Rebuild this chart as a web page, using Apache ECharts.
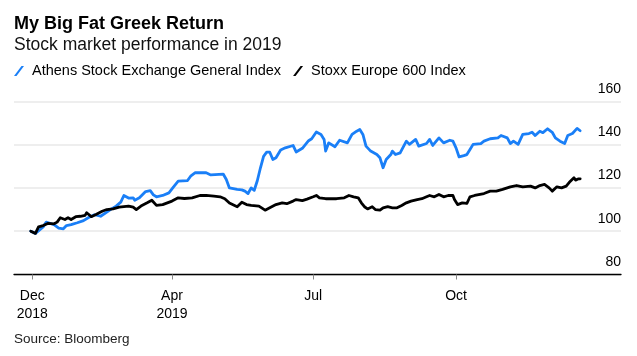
<!DOCTYPE html>
<html>
<head>
<meta charset="utf-8">
<script src="https://cdn.jsdelivr.net/npm/echarts@6/dist/echarts.min.js"></script>
<style>html,body{margin:0;padding:0;background:#fff;}#c{width:637px;height:356px;}</style>
</head>
<body>
<div id="c"></div>
<script>
const athensDates = ['2018-12-31','2019-01-03','2019-01-08','2019-01-10','2019-01-15','2019-01-18','2019-01-21','2019-01-23','2019-01-26','2019-01-30','2019-02-03','2019-02-06','2019-02-10','2019-02-14','2019-02-18','2019-02-21','2019-02-24','2019-02-27','2019-03-01','2019-03-04','2019-03-07','2019-03-08','2019-03-11','2019-03-15','2019-03-18','2019-03-20','2019-03-22','2019-03-26','2019-03-30','2019-04-02','2019-04-05','2019-04-11','2019-04-13','2019-04-16','2019-04-23','2019-04-26','2019-05-04','2019-05-06','2019-05-08','2019-05-13','2019-05-16','2019-05-18','2019-05-20','2019-05-22','2019-05-24','2019-05-26','2019-05-28','2019-05-30','2019-06-01','2019-06-03','2019-06-05','2019-06-07','2019-06-10','2019-06-13','2019-06-18','2019-06-20','2019-06-24','2019-06-28','2019-06-30','2019-07-03','2019-07-06','2019-07-08','2019-07-09','2019-07-11','2019-07-15','2019-07-18','2019-07-23','2019-07-26','2019-07-29','2019-07-31','2019-08-02','2019-08-04','2019-08-07','2019-08-08','2019-08-11','2019-08-13','2019-08-15','2019-08-17','2019-08-20','2019-08-21','2019-08-23','2019-08-26','2019-08-30','2019-09-01','2019-09-05','2019-09-07','2019-09-12','2019-09-14','2019-09-16','2019-09-20','2019-09-23','2019-09-27','2019-09-29','2019-10-01','2019-10-03','2019-10-06','2019-10-08','2019-10-10','2019-10-12','2019-10-17','2019-10-19','2019-10-23','2019-10-28','2019-10-30','2019-11-03','2019-11-05','2019-11-07','2019-11-10','2019-11-13','2019-11-17','2019-11-19','2019-11-21','2019-11-24','2019-11-26','2019-11-29','2019-12-02','2019-12-04','2019-12-07','2019-12-10','2019-12-12','2019-12-15','2019-12-16','2019-12-18','2019-12-20'];
const athensValues = [100,99,102,104.2,103,101.4,101.1,102.6,103,103.9,104.9,106.2,107.6,106.9,108.8,110.3,111.6,113.4,116.5,115.3,115.4,114.3,115.4,118.3,118.7,116.8,115.9,116.5,117.7,120.5,123.1,123.4,125.4,127,127,126,126.4,123.9,120,119.3,119.1,118.5,117.4,120,118.9,123.4,129.3,134.6,136.5,136.5,133.1,133.9,137.5,138.5,139.6,136.6,138.3,141.8,142.7,145.8,144.7,142.4,137,140.8,139,142,140.8,144.7,146.2,147,144.7,139.3,137,137.7,135.4,133.9,129.3,133.1,135.4,137,135.4,136.2,141.6,140.1,142.4,139.3,140.5,142.4,139.6,143.1,140.8,142,141.6,138.5,134.3,134.9,135.4,137.7,140.1,140.5,141.6,142.7,143.1,144.2,143.1,140.5,141.6,140.1,144.7,145.1,145.7,144.2,146.2,145.5,147.3,145.7,143.1,141.6,140.5,144.2,145.1,144.2,147.5,146.4];

const stoxxDates = ['2018-12-31','2019-01-03','2019-01-05','2019-01-08','2019-01-11','2019-01-15','2019-01-17','2019-01-19','2019-01-22','2019-01-24','2019-01-26','2019-01-29','2019-02-01','2019-02-04','2019-02-05','2019-02-08','2019-02-11','2019-02-15','2019-02-18','2019-02-22','2019-02-26','2019-03-04','2019-03-07','2019-03-09','2019-03-12','2019-03-16','2019-03-19','2019-03-22','2019-03-26','2019-04-01','2019-04-05','2019-04-09','2019-04-14','2019-04-19','2019-04-23','2019-04-28','2019-05-02','2019-05-05','2019-05-08','2019-05-13','2019-05-16','2019-05-19','2019-05-22','2019-05-23','2019-05-27','2019-05-31','2019-06-03','2019-06-07','2019-06-11','2019-06-14','2019-06-18','2019-06-20','2019-06-24','2019-06-27','2019-07-01','2019-07-03','2019-07-05','2019-07-09','2019-07-16','2019-07-21','2019-07-24','2019-07-27','2019-07-30','2019-08-01','2019-08-03','2019-08-05','2019-08-08','2019-08-10','2019-08-13','2019-08-15','2019-08-18','2019-08-21','2019-08-24','2019-08-27','2019-08-30','2019-09-02','2019-09-06','2019-09-09','2019-09-12','2019-09-14','2019-09-17','2019-09-20','2019-09-23','2019-09-26','2019-09-29','2019-09-30','2019-10-02','2019-10-05','2019-10-08','2019-10-10','2019-10-13','2019-10-14','2019-10-19','2019-10-23','2019-10-27','2019-10-31','2019-11-05','2019-11-09','2019-11-13','2019-11-18','2019-11-21','2019-11-24','2019-11-27','2019-11-30','2019-12-02','2019-12-05','2019-12-08','2019-12-11','2019-12-13','2019-12-16','2019-12-17','2019-12-19','2019-12-20'];
const stoxxValues = [100,99,102,102.6,103.6,103.4,104.2,106.2,105.4,106.2,105.4,106.7,106.9,107.3,108.5,106.7,107.7,109.2,110,110.3,111.1,111.6,111.1,110,111.6,113.1,114.3,111.9,112.3,113.9,115.4,115.1,115.4,116.5,116.5,116.2,115.9,115,113,111.3,113.4,112.3,111.9,111.3,111.6,109.7,110.8,112.3,113.1,112.7,113.9,114.6,114.1,114.8,115.9,116.5,115.4,115,115,115.4,116.5,115.9,115.4,113.1,111.3,110.3,111.3,110,109.7,110.8,111.3,110.8,110.8,111.9,113.1,113.9,114.6,115,115.9,116.5,115.9,117,115.9,116.5,116.5,114.6,112.3,113.1,112.8,115.9,116.5,117,117.4,118.5,118.5,119.3,120.5,121.1,120.5,120.8,120,121.1,121.6,120,118.5,120.5,120,120.8,122.6,124.7,123.6,124.2,124.2];

const tickDates = ['2019-01-01','2019-04-01','2019-07-01','2019-10-01'];
const tickLabels = ['Dec\n2018','Apr\n2019','Jul','Oct'];
const seriesNames = ['Athens Stock Exchange General Index','Stoxx Europe 600 Index'];

function dayNum(s){const p=s.split('-').map(Number);return (Date.UTC(p[0],p[1]-1,p[2])-Date.UTC(2019,0,1))/864e5;}
const tickDays = tickDates.map(dayNum);
const pairs = (ds, vs) => ds.map((d,i)=>[dayNum(d), vs[i]]);

const FONT = "'Liberation Sans', Arial, sans-serif";
const chart = echarts.init(document.getElementById('c'), null, {renderer:'canvas'});
chart.setOption({
  animation:false,
  textStyle:{fontFamily:FONT},
  title:[
    {text:'My Big Fat Greek Return', left:14, top:14.7, padding:0, textStyle:{fontFamily:FONT, fontSize:18, fontWeight:'bold', color:'#000'}},
    {text:'Stock market performance in 2019', left:14, top:35.8, padding:0, textStyle:{fontFamily:FONT, fontSize:17.5, fontWeight:'normal', color:'#111'}},
    {text:'Source: Bloomberg', left:14, top:331.8, padding:0, textStyle:{fontFamily:FONT, fontSize:13.5, fontWeight:'normal', color:'#222'}}
  ],
  legend:{
    left:14, top:63.6, padding:0, itemWidth:10, itemHeight:10, itemGap:12,
    icon:'path://M0,10 L2.5,10 L10,0 L7.5,0 Z',
    textStyle:{fontFamily:FONT, fontSize:14.5, color:'#000', padding:[0,0,0,3]},
    data:seriesNames
  },
  grid:{left:14, right:16, top:101.3, bottom:81.5, containLabel:false},
  xAxis:{
    type:'value', min:-11.8, max:379.3,
    axisLine:{show:true, onZero:false, lineStyle:{color:'#000', width:1.3}},
    axisTick:{show:true, customValues:tickDays, length:5, lineStyle:{color:'#888', width:1}},
    axisLabel:{customValues:tickDays, formatter:(v)=>{const i=tickDays.indexOf(v);return i>=0?tickLabels[i]:'';}, fontFamily:FONT, fontSize:14, lineHeight:18.5, margin:12, color:'#000'},
    splitLine:{show:false}
  },
  yAxis:{
    type:'value', position:'right', min:80, max:160, interval:20,
    axisLine:{show:false}, axisTick:{show:false},
    splitLine:{lineStyle:{color:'#eeeeee', width:2}},
    axisLabel:{inside:true, margin:0, fontFamily:FONT, fontSize:14, color:'#000', verticalAlign:'bottom', lineHeight:16, padding:[0,0,4.5,0]}
  },
  series:[
    {name:seriesNames[0], type:'line', data:pairs(athensDates, athensValues), showSymbol:false, color:'#1a7ff7', lineStyle:{width:2.8, color:'#1a7ff7', cap:'round', join:'round'}, itemStyle:{color:'#1a7ff7'}},
    {name:seriesNames[1], type:'line', data:pairs(stoxxDates, stoxxValues), showSymbol:false, color:'#000', lineStyle:{width:2.8, color:'#000', cap:'round', join:'round'}, itemStyle:{color:'#000'}}
  ]
});
</script>
</body>
</html>
